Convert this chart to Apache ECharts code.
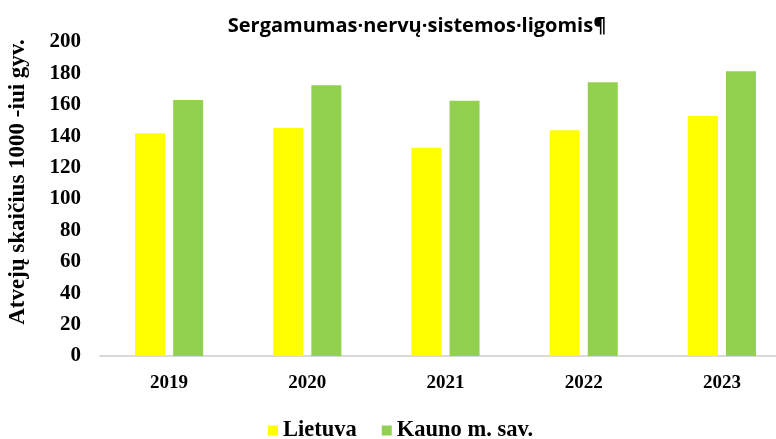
<!DOCTYPE html>
<html>
<head>
<meta charset="utf-8">
<script src="https://cdn.jsdelivr.net/npm/echarts@6/dist/echarts.min.js"></script>
<style>
  html, body { margin: 0; padding: 0; background: #fff; }
  #chart { width: 776px; height: 439px; }
</style>
</head>
<body>
<div id="chart"></div>
<script>
// Sergamumas nervų sistemos ligomis, atvejų skaičius 1000-iui gyventojų
const years = ['2019', '2020', '2021', '2022', '2023'];
const lietuva = [141.8, 145.2, 132.7, 143.8, 152.9];
const kaunas = [163.0, 172.4, 162.6, 174.3, 181.3];
const yTicks = [0, 20, 40, 60, 80, 100, 120, 140, 160, 180, 200];

const serif = '"Liberation Serif", "DejaVu Serif", serif';
const chart = echarts.init(document.getElementById('chart'));

chart.setOption({
  backgroundColor: '#ffffff',
  animation: false,
  title: {
    text: 'Sergamumas·nervų·sistemos·ligomis¶',
    left: 412,
    textAlign: 'center',
    top: 11,
    textStyle: {
      fontFamily: '"Open Sans", "Noto Sans", sans-serif',
      fontWeight: 'bold',
      fontSize: 20,
      color: '#000'
    }
  },
  legend: {
    data: ['Lietuva', 'Kauno m. sav.'],
    left: 263,
    top: 414,
    itemWidth: 10,
    itemHeight: 10,
    itemGap: 25,
    icon: 'rect',
    textStyle: {
      fontFamily: serif,
      fontWeight: 'bold',
      fontSize: 22.5,
      color: '#000'
    }
  },
  grid: {
    left: 100,
    width: 691,
    top: 42,
    bottom: 439 - 356,
    containLabel: false,
    outerBoundsMode: 'none'
  },
  xAxis: {
    type: 'category',
    data: years,
    axisLine: { show: true, lineStyle: { color: '#d9d9d9', width: 2 } },
    axisTick: { show: false },
    axisLabel: {
      margin: 18,
      fontFamily: serif,
      fontWeight: 'bold',
      fontSize: 19,
      color: '#000'
    }
  },
  yAxis: {
    type: 'value',
    min: yTicks[0],
    max: yTicks[yTicks.length - 1],
    interval: yTicks[1] - yTicks[0],
    name: 'Atvejų skaičius 1000 -iui gyv.',
    nameLocation: 'middle',
    nameGap: 70,
    nameRotate: 90,
    nameTextStyle: {
      fontFamily: serif,
      fontWeight: 'bold',
      fontSize: 23,
      color: '#000',
      padding: [0, 0, 0, 34]
    },
    axisLine: { show: false },
    axisTick: { show: false },
    splitLine: { show: false },
    axisLabel: {
      margin: 19,
      fontFamily: serif,
      fontWeight: 'bold',
      fontSize: 21,
      color: '#000'
    }
  },
  series: [
    {
      name: 'Lietuva',
      type: 'bar',
      data: lietuva,
      barWidth: 30,
      barGap: '27%',
      itemStyle: { color: '#FFFF00' }
    },
    {
      name: 'Kauno m. sav.',
      type: 'bar',
      data: kaunas,
      barWidth: 30,
      itemStyle: { color: '#92D050' }
    }
  ]
});
</script>
</body>
</html>
